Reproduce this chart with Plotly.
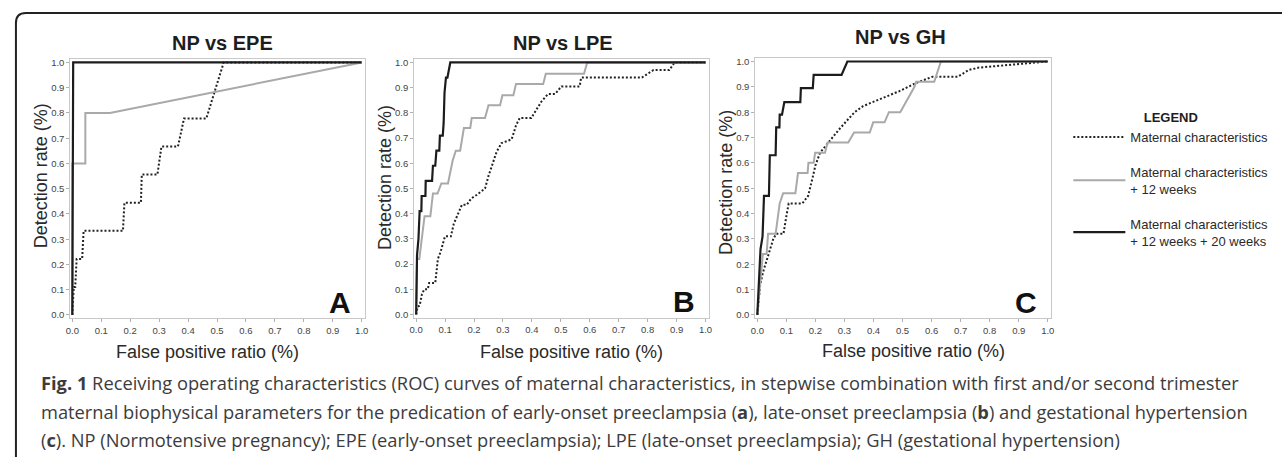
import plotly.graph_objects as go

# ---------------- data ----------------
tick_vals = [i / 10 for i in range(11)]
tick_text = ["0.0", "0.1", "0.2", "0.3", "0.4", "0.5", "0.6", "0.7", "0.8", "0.9", "1.0"]

series_names = [
    "Maternal characteristics",
    "Maternal characteristics<br>+ 12 weeks",
    "Maternal characteristics<br>+ 12 weeks + 20 weeks",
]
panel_titles = ["NP vs EPE", "NP vs LPE", "NP vs GH"]
panel_letters = ["A", "B", "C"]

# Panel A: NP vs EPE
a_mat_x = [0, 0.005, 0.01, 0.015, 0.034, 0.039, 0.175, 0.18, 0.237, 0.24, 0.294, 0.308, 0.365, 0.386, 0.463, 0.523, 1.0]
a_mat_y = [0, 0.111, 0.111, 0.222, 0.222, 0.333, 0.333, 0.444, 0.444, 0.556, 0.556, 0.667, 0.667, 0.778, 0.778, 1.0, 1.0]
a_w12_x = [0, 0, 0.045, 0.045, 0.13, 1.0]
a_w12_y = [0, 0.6, 0.6, 0.8, 0.8, 1.0]
a_w20_x = [0, 0.003, 1.0]
a_w20_y = [0, 1.0, 1.0]

# Panel B: NP vs LPE
b_mat_x = [0, 0.005, 0.012, 0.02, 0.028, 0.04, 0.045, 0.066, 0.075, 0.085, 0.097, 0.1, 0.12, 0.13, 0.145,
           0.158, 0.175, 0.19, 0.21, 0.225, 0.238, 0.25, 0.265, 0.278, 0.295, 0.33, 0.345, 0.358, 0.398,
           0.415, 0.433, 0.456, 0.48, 0.502, 0.565, 0.57, 0.78, 0.82, 0.875, 0.893, 1.0]
b_mat_y = [0, 0.03, 0.035, 0.08, 0.1, 0.1, 0.125, 0.125, 0.22, 0.25, 0.3, 0.31, 0.31, 0.36, 0.40,
           0.435, 0.435, 0.46, 0.475, 0.49, 0.5, 0.55, 0.6, 0.645, 0.68, 0.695, 0.75, 0.78, 0.78,
           0.81, 0.845, 0.875, 0.875, 0.905, 0.905, 0.94, 0.94, 0.97, 0.97, 1.0, 1.0]
b_w12_x = [0, 0.003, 0.011, 0.023, 0.029, 0.049, 0.058, 0.074, 0.087, 0.110, 0.120, 0.126, 0.137, 0.152,
           0.165, 0.187, 0.192, 0.238, 0.25, 0.29, 0.298, 0.336, 0.345, 0.439, 0.448, 0.58, 0.591, 1.0]
b_w12_y = [0, 0.22, 0.22, 0.35, 0.39, 0.39, 0.48, 0.48, 0.52, 0.52, 0.57, 0.61, 0.65, 0.65,
           0.74, 0.74, 0.78, 0.78, 0.83, 0.83, 0.87, 0.87, 0.915, 0.915, 0.955, 0.955, 1.0, 1.0]
b_w20_x = [0, 0.003, 0.008, 0.012, 0.018, 0.019, 0.032, 0.033, 0.055, 0.058, 0.066, 0.07, 0.08, 0.082,
           0.092, 0.095, 0.098, 0.103, 0.108, 0.118, 1.0]
b_w20_y = [0, 0.235, 0.30, 0.41, 0.41, 0.47, 0.47, 0.53, 0.53, 0.59, 0.59, 0.65, 0.65, 0.71,
           0.71, 0.76, 0.88, 0.94, 0.94, 1.0, 1.0]

# Panel C: NP vs GH
c_mat_x = [0, 0.005, 0.01, 0.02, 0.03, 0.045, 0.055, 0.065, 0.09, 0.1, 0.108, 0.155, 0.175, 0.19, 0.2,
           0.216, 0.25, 0.28, 0.307, 0.335, 0.364, 0.421, 0.489, 0.546, 0.603, 0.69, 0.729, 0.763, 0.877, 1.0]
c_mat_y = [0, 0.05, 0.12, 0.17, 0.21, 0.27, 0.30, 0.32, 0.32, 0.39, 0.44, 0.44, 0.47, 0.54, 0.59,
           0.64, 0.69, 0.73, 0.765, 0.80, 0.824, 0.85, 0.883, 0.915, 0.94, 0.94, 0.967, 0.976, 0.987, 1.0]
c_w12_x = [0, 0.006, 0.013, 0.019, 0.032, 0.037, 0.063, 0.068, 0.077, 0.089, 0.131, 0.14, 0.173, 0.176,
           0.194, 0.199, 0.233, 0.242, 0.313, 0.333, 0.387, 0.399, 0.438, 0.453, 0.492, 0.541, 0.547,
           0.609, 0.632, 1.0]
c_w12_y = [0, 0.08, 0.16, 0.24, 0.24, 0.32, 0.32, 0.36, 0.44, 0.48, 0.48, 0.56, 0.56, 0.60,
           0.60, 0.64, 0.64, 0.68, 0.68, 0.72, 0.72, 0.76, 0.76, 0.80, 0.80, 0.90, 0.92,
           0.92, 1.0, 1.0]
c_w20_x = [0, 0.005, 0.011, 0.018, 0.023, 0.04, 0.043, 0.063, 0.065, 0.076, 0.077, 0.085, 0.093, 0.148,
           0.15, 0.191, 0.194, 0.29, 0.31, 1.0]
c_w20_y = [0, 0.10, 0.26, 0.31, 0.47, 0.47, 0.63, 0.63, 0.74, 0.74, 0.79, 0.79, 0.84, 0.84,
           0.895, 0.895, 0.947, 0.947, 1.0, 1.0]

panels = [
    [(a_mat_x, a_mat_y), (a_w12_x, a_w12_y), (a_w20_x, a_w20_y)],
    [(b_mat_x, b_mat_y), (b_w12_x, b_w12_y), (b_w20_x, b_w20_y)],
    [(c_mat_x, c_mat_y), (c_w12_x, c_w12_y), (c_w20_x, c_w20_y)],
]

# ---------------- layout helpers ----------------
W, H = 1282, 457
def px(x):
    return x / W
def py(y):
    return 1 - y / H

line_styles = [
    dict(color="#222222", width=2, dash="2px,2px"),
    dict(color="#a9a9a9", width=2, dash="solid"),
    dict(color="#1c1c1c", width=2.2, dash="solid"),
]

# pixel boxes of each plot frame (left, right, top, bottom)
boxes = [(65.7, 362.3, 57.7, 319.0), (411.7, 708.3, 57.7, 318.5), (755.0, 1052.7, 56.7, 319.0)]
title_pos = [(219, 41.5), (562, 41.5), (901, 35.5)]
xtitle_pos = [(204, 353), (570, 353), (914, 352)]
ytitle_pos = [(37, 175), (383, 177), (726, 182)]

fig = go.Figure()

for p, series in enumerate(panels):
    ax = "" if p == 0 else str(p + 1)
    for s, (xs, ys) in enumerate(series):
        fig.add_trace(go.Scatter(
            x=xs, y=ys, mode="lines", line=line_styles[s],
            name=series_names[s], legendgroup=f"g{s}",
            showlegend=(p == 0),
            xaxis="x" + ax, yaxis="y" + ax,
            hoverinfo="skip",
        ))

axis_common = dict(
    showline=True, mirror=True, linecolor="#c8c8c8", linewidth=1,
    ticks="outside", ticklen=3, tickcolor="#b0b0b0", tickwidth=1,
    showgrid=False, zeroline=False,
    tickvals=tick_vals, ticktext=tick_text,
    tickfont=dict(family="Arial, Liberation Sans", size=9.5, color="#444444"),
    fixedrange=True,
)

layout_axes = {}
for p, (l, r, t, b) in enumerate(boxes):
    ax = "" if p == 0 else str(p + 1)
    layout_axes["xaxis" + ax] = dict(axis_common, domain=[px(l), px(r)], range=[-0.007, 1.0115],
                                     anchor="y" + ax)
    layout_axes["yaxis" + ax] = dict(axis_common, domain=[py(b), py(t)], range=[-0.013, 1.013],
                                     anchor="x" + ax)

annotations = []
arial = "Arial, Liberation Sans"
for p in range(3):
    ax = "" if p == 0 else str(p + 1)
    annotations.append(dict(text=f"<b>{panel_titles[p]}</b>", x=px(title_pos[p][0]), y=py(title_pos[p][1]),
                            xref="paper", yref="paper", showarrow=False, xanchor="center", yanchor="middle",
                            font=dict(family=arial, size=20, color="#1e1e1e")))
    annotations.append(dict(text="False positive ratio (%)", x=px(xtitle_pos[p][0]), y=py(xtitle_pos[p][1]),
                            xref="paper", yref="paper", showarrow=False, xanchor="center", yanchor="middle",
                            font=dict(family=arial, size=18, color="#2a2a2a")))
    annotations.append(dict(text="Detection rate (%)", x=px(ytitle_pos[p][0]), y=py(ytitle_pos[p][1]),
                            xref="paper", yref="paper", showarrow=False, xanchor="center", yanchor="middle",
                            textangle=-90,
                            font=dict(family=arial, size=18, color="#2a2a2a")))
    annotations.append(dict(text=f"<b>{panel_letters[p]}</b>", x=0.925, y=0.05,
                            xref="x" + ax, yref="y" + ax, showarrow=False, xanchor="center", yanchor="middle",
                            font=dict(family=arial, size=30, color="#111111")))

caption_lines = [
    "<b>Fig. 1</b> Receiving operating characteristics (ROC) curves of maternal characteristics, in stepwise combination with first and/or second trimester",
    "maternal biophysical parameters for the predication of early-onset preeclampsia (<b>a</b>), late-onset preeclampsia (<b>b</b>) and gestational hypertension",
    "(<b>c</b>). NP (Normotensive pregnancy); EPE (early-onset preeclampsia); LPE (late-onset preeclampsia); GH (gestational hypertension)",
]
caption_y = [384, 413, 441]
for line, yy in zip(caption_lines, caption_y):
    annotations.append(dict(text=line, x=px(34), y=py(yy), xref="paper", yref="paper", showarrow=False,
                            xanchor="left", yanchor="middle",
                            font=dict(family="Open Sans, Noto Sans", size=18.3, color="#3c3c3c")))

# outer frame (rounded top-left corner, continues beyond right/bottom edges)
frame_path = (f"M {px(11)},{py(475)} L {px(11)},{py(21)} Q {px(11)},{py(11)} {px(21)},{py(11)} "
              f"L {px(1300)},{py(11)}")

fig.update_layout(
    width=W, height=H,
    margin=dict(l=0, r=0, t=0, b=0),
    paper_bgcolor="white", plot_bgcolor="white",
    showlegend=True,
    legend=dict(
        x=px(1070), y=py(104), xanchor="left", yanchor="top",
        traceorder="grouped", tracegroupgap=15,
        title=dict(text="<b>LEGEND</b>", side="top center",
                   font=dict(family=arial, size=13, color="#1e1e1e")),
        font=dict(family=arial, size=13, color="#2a2a2a"),
        itemwidth=52, bgcolor="rgba(0,0,0,0)",
    ),
    annotations=annotations,
    shapes=[dict(type="path", path=frame_path, xref="paper", yref="paper",
                 line=dict(color="#222222", width=2))],
    **layout_axes,
)

fig.write_html("out.html", config={"displayModeBar": False, "staticPlot": False},
               post_script="document.body.style.margin='0';document.body.style.overflow='hidden';")
